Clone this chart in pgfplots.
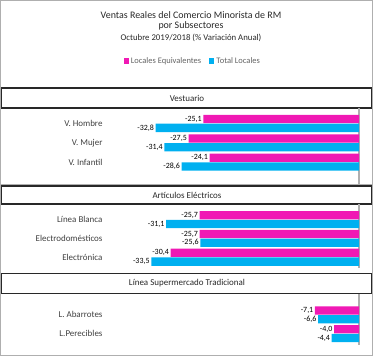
\documentclass[border=0pt]{standalone}
\usepackage{pgfplots}
\pgfplotsset{compat=1.18}
\usepackage{fontspec}
\setmainfont{Carlito}
\definecolor{mag}{RGB}{240,25,180}
\definecolor{cyn}{RGB}{0,176,240}
\definecolor{txt}{RGB}{64,64,64}
\definecolor{legtxt}{RGB}{100,100,100}
\definecolor{frame}{RGB}{175,175,175}
\definecolor{boxc}{RGB}{40,40,40}

\pgfplotsset{panel/.style={
  x=6.2bp, xmin=-40, xmax=0,
  scale only axis, clip=false,
  xbar, bar width=8.3bp,
  axis line style={draw=none},
  xtick=\empty, ytick={1,2,3}, major tick length=0pt,
  yticklabel style={font=\fontsize{9}{10}\selectfont, text=txt, xshift=-5bp},
  extra x ticks={0}, extra x tick labels={},
  extra x tick style={grid=major, major grid style={draw=frame, line width=1.2pt}},
  point meta=x,
  nodes near coords={\pgfmathprintnumber[fixed,fixed zerofill,precision=1,use comma,assume math mode=true]{\pgfplotspointmeta}},
  nodes near coords align={horizontal},
  every node near coord/.append style={font=\fontsize{8}{9}\selectfont, text=black, inner sep=1.5bp},
  anchor=north east,
}}

\begin{document}
\begin{tikzpicture}
\useasboundingbox (0,0) rectangle (373bp,-356bp);
\draw[frame, line width=1bp] (0.5bp,-0.5bp) rectangle (372.5bp,-355.5bp);
\draw[frame, line width=1bp] (0.5bp,-184bp) -- (372.5bp,-184bp);

% titles
\node[text=boxc, font=\fontsize{10}{11}\selectfont] at (191bp,-15bp) {Ventas Reales del Comercio Minorista de RM};
\node[text=boxc, font=\fontsize{10}{11}\selectfont] at (191bp,-26bp) {por Subsectores};
\node[text=boxc, font=\fontsize{8.8}{10}\selectfont] at (191bp,-38bp) {Octubre 2019/2018 (\% Variación Anual)};

% section boxes
\draw[boxc, line width=1.2bp, fill=white] (1.5bp,-88bp) rectangle (371.5bp,-108bp);
\node[text=boxc, font=\fontsize{9}{10}\selectfont] at (187bp,-98bp) {Vestuario};
\draw[boxc, line width=1.2bp, fill=white] (1.5bp,-186bp) rectangle (371.5bp,-204bp);
\node[text=boxc, font=\fontsize{9}{10}\selectfont] at (187bp,-195bp) {Artículos Eléctricos};
\draw[boxc, line width=1.2bp, fill=white] (1.5bp,-273.5bp) rectangle (371.5bp,-293.5bp);
\node[text=boxc, font=\fontsize{9}{10}\selectfont] at (187bp,-283.5bp) {Línea Supermercado Tradicional};

% panel 1
\begin{axis}[panel, at={(359bp,-108bp)}, y=19.35bp, ymin=-0.127, ymax=3.80,
  yticklabels={V. Infantil, V. Mujer, V. Hombre},
  legend style={at={(axis description cs:0.33,1.618)}, anchor=center, draw=none, fill=none,
    legend columns=2, font=\fontsize{8.5}{10}\selectfont, text=legtxt,
    /tikz/every even column/.append style={column sep=6bp}, inner sep=0pt},
  legend image code/.code={\fill[#1] (0bp,-2.6bp) rectangle (5.2bp,2.6bp);}]
\addplot[fill=mag, draw=none, bar shift=4.4bp] coordinates {(-25.1,3) (-27.5,2) (-24.1,1)};
\addplot[fill=cyn, draw=none, bar shift=-4.4bp] coordinates {(-32.8,3) (-31.4,2) (-28.6,1)};
\legend{Locales Equivalentes, Total Locales}
\end{axis}

% panel 2
\begin{axis}[panel, at={(359bp,-204bp)}, y=18.8bp, ymin=0.426, ymax=3.83,
  yticklabels={Electrónica, Electrodomésticos, Línea Blanca}]
\addplot[fill=mag, draw=none, bar shift=4.4bp] coordinates {(-25.7,3) (-25.7,2) (-30.4,1)};
\addplot[fill=cyn, draw=none, bar shift=-4.4bp] coordinates {(-31.1,3) (-25.6,2) (-33.5,1)};
\end{axis}

% panel 3
\begin{axis}[panel, at={(359bp,-293.5bp)}, y=18.8bp, ymin=0.42, ymax=3.133,
  ytick={1,2}, yticklabels={L.Perecibles, L. Abarrotes}]
\addplot[fill=mag, draw=none, bar shift=4.4bp] coordinates {(-7.1,2) (-4.0,1)};
\addplot[fill=cyn, draw=none, bar shift=-4.4bp] coordinates {(-6.6,2) (-4.4,1)};
\end{axis}
\end{tikzpicture}
\end{document}
